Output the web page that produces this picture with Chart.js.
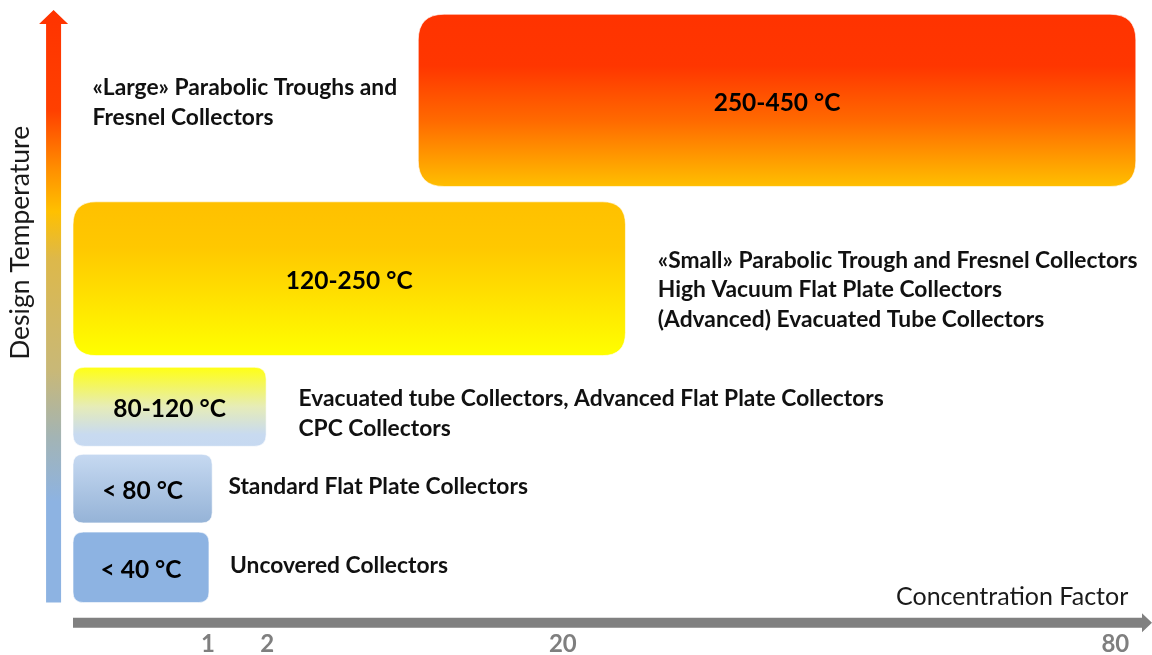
<!DOCTYPE html>
<html>
<head>
<meta charset="utf-8">
<title>Solar collectors: design temperature vs concentration factor</title>
<script src="https://cdn.jsdelivr.net/npm/chart.js@4/dist/chart.umd.min.js"></script>
<style>
  html, body { margin: 0; padding: 0; background: #ffffff; }
  #wrap { width: 1152px; height: 655px; position: relative; }
</style>
</head>
<body>
<div id="wrap"><canvas id="chart"></canvas></div>
<script>
// Temperature classes, with the concentration span (x) and temperature band (y)
// each one occupies on the schematic axes.
const classLabels = ['< 40 °C', '< 80 °C', '80-120 °C', '120-250 °C', '250-450 °C'];
const concentrationStart = [0, 0, 0, 0, 32.0];
const concentrationEnd = [12.6, 12.9, 17.9, 51.2, 98.5];
const temperatureLow = [3.3, 16.3, 28.8, 43.6, 71.2];
const temperatureHigh = [14.8, 27.5, 41.7, 68.7, 99.3];

// Collector technologies belonging to each temperature class
const collectorNotes = [
  ['Uncovered Collectors'],
  ['Standard Flat Plate Collectors'],
  ['Evacuated tube Collectors, Advanced Flat Plate Collectors', 'CPC Collectors'],
  ['«Small» Parabolic Trough and Fresnel Collectors', 'High Vacuum Flat Plate Collectors', '(Advanced) Evacuated Tube Collectors'],
  ['«Large» Parabolic Troughs and', 'Fresnel Collectors']
];

// Concentration factor ticks along the horizontal axis
const tickPositions = [12.5, 18.0, 45.4, 96.6];
const tickLabels = ['1', '2', '20', '80'];

const axisTitles = { x: 'Concentration Factor', y: 'Design Temperature' };

// ---- layout and styling ----
const noteAnchors = [   // left edge / vertical centre of each note block, in axis units
  [14.55, 9.3], [14.4, 22.2], [20.9, 34.1], [54.2, 54.3], [1.8, 84.9]
];
const xTitleAnchor = [97.8, 4.3];   // right end / centre of the horizontal axis title
const yTitleAnchor = [-4.9, 62];    // centre of the vertical axis title
const yArrowAt = -1.8;              // x position of the temperature arrow
const yArrowBase = 3.3;             // bottom of the temperature arrow

const boxFills = [
  [[0, '#8db3e2'], [1, '#8db3e2']],
  [[0, '#c6d9f1'], [1, '#95b3d7']],
  [[0, '#ffff14'], [0.5, '#e6ecb8'], [0.85, '#c8daf0'], [1, '#c6d9f1']],
  [[0, '#ffc000'], [0.3, '#ffc800'], [1, '#ffff00']],
  [[0, '#ff3300'], [0.3, '#ff3600'], [0.62, '#ff6a00'], [1, '#ffbf00']]
];
const temperatureArrowStops = [
  [0, '#ff3300'], [0.17, '#ff4000'], [0.27, '#ff9000'], [0.34, '#ffc000'],
  [0.42, '#ddb84a'], [0.61, '#c8b878'], [0.72, '#a3b4b4'], [0.83, '#8db3e2'], [1, '#8db3e2']
];
const FONT = 'Lato, "Open Sans", sans-serif';

function roundRectPath(ctx, x, y, w, h, r) {
  ctx.beginPath();
  ctx.moveTo(x + r, y);
  ctx.lineTo(x + w - r, y);
  ctx.quadraticCurveTo(x + w, y, x + w, y + r);
  ctx.lineTo(x + w, y + h - r);
  ctx.quadraticCurveTo(x + w, y + h, x + w - r, y + h);
  ctx.lineTo(x + r, y + h);
  ctx.quadraticCurveTo(x, y + h, x, y + h - r);
  ctx.lineTo(x, y + r);
  ctx.quadraticCurveTo(x, y, x + r, y);
  ctx.closePath();
}

const diagramPlugin = {
  id: 'temperatureClasses',
  afterDraw(chart) {
    const ctx = chart.ctx;
    const xs = chart.scales.x, ys = chart.scales.y;
    ctx.save();

    // horizontal axis arrow (concentration factor)
    const ax0 = xs.getPixelForValue(0), ax1 = xs.getPixelForValue(100);
    const ay = ys.getPixelForValue(0);
    ctx.fillStyle = '#808080';
    ctx.beginPath();
    ctx.moveTo(ax0, ay - 5);
    ctx.lineTo(ax1 - 10, ay - 5);
    ctx.lineTo(ax1 - 10, ay - 9.5);
    ctx.lineTo(ax1, ay);
    ctx.lineTo(ax1 - 10, ay + 9.5);
    ctx.lineTo(ax1 - 10, ay + 5);
    ctx.lineTo(ax0, ay + 5);
    ctx.closePath();
    ctx.fill();

    // vertical axis arrow (design temperature), coloured from cold to hot
    const vx = xs.getPixelForValue(yArrowAt);
    const vTop = ys.getPixelForValue(100), vBot = ys.getPixelForValue(yArrowBase);
    const vg = ctx.createLinearGradient(0, vTop, 0, vBot);
    temperatureArrowStops.forEach(([o, c]) => vg.addColorStop(o, c));
    ctx.fillStyle = vg;
    ctx.beginPath();
    ctx.moveTo(vx, vTop);
    ctx.lineTo(vx + 14.5, vTop + 14);
    ctx.lineTo(vx + 7.5, vTop + 14);
    ctx.lineTo(vx + 7.5, vBot);
    ctx.lineTo(vx - 7.5, vBot);
    ctx.lineTo(vx - 7.5, vTop + 14);
    ctx.lineTo(vx - 14.5, vTop + 14);
    ctx.closePath();
    ctx.fill();

    // axis titles
    ctx.fillStyle = '#1a1a1a';
    ctx.font = '25px ' + FONT;
    ctx.textAlign = 'right';
    ctx.textBaseline = 'middle';
    ctx.fillText(axisTitles.x, xs.getPixelForValue(xTitleAnchor[0]), ys.getPixelForValue(xTitleAnchor[1]));
    ctx.save();
    ctx.translate(xs.getPixelForValue(yTitleAnchor[0]), ys.getPixelForValue(yTitleAnchor[1]));
    ctx.rotate(-Math.PI / 2);
    ctx.textAlign = 'center';
    ctx.font = '26.5px ' + FONT;
    ctx.fillText(axisTitles.y, 0, 0);
    ctx.restore();

    // temperature class boxes
    classLabels.forEach((label, i) => {
      const x0 = xs.getPixelForValue(concentrationStart[i]);
      const x1 = xs.getPixelForValue(concentrationEnd[i]);
      const y0 = ys.getPixelForValue(temperatureHigh[i]);
      const y1 = ys.getPixelForValue(temperatureLow[i]);
      const w = x1 - x0, h = y1 - y0;
      const g = ctx.createLinearGradient(0, y0, 0, y1);
      boxFills[i].forEach(([o, c]) => g.addColorStop(o, c));
      roundRectPath(ctx, x0, y0, w, h, Math.min(w, h) * 0.15);
      ctx.fillStyle = g;
      ctx.fill();
      ctx.strokeStyle = 'rgba(255,255,255,0.6)';
      ctx.lineWidth = 1;
      ctx.stroke();

      ctx.fillStyle = '#000000';
      ctx.font = 'bold 24.5px ' + FONT;
      ctx.textAlign = 'center';
      ctx.textBaseline = 'middle';
      ctx.fillText(label, (x0 + x1) / 2, (y0 + y1) / 2 + 2.5);

      // collector types for this class
      const lines = collectorNotes[i];
      const nx = xs.getPixelForValue(noteAnchors[i][0]);
      const ny = ys.getPixelForValue(noteAnchors[i][1]);
      const lh = 29.5;
      ctx.textAlign = 'left';
      ctx.font = 'bold 22.8px ' + FONT;
      ctx.fillStyle = '#111111';
      lines.forEach((t, k) => {
        ctx.fillText(t, nx, ny + (k - (lines.length - 1) / 2) * lh);
      });
    });
    ctx.restore();
  }
};

new Chart(document.getElementById('chart'), {
  type: 'scatter',
  data: { datasets: [] },
  options: {
    responsive: true,
    maintainAspectRatio: false,
    animation: false,
    layout: { padding: { left: 73, right: 0, top: 10, bottom: -11 } },
    plugins: { legend: { display: false }, tooltip: { enabled: false } },
    scales: {
      x: {
        type: 'linear',
        min: 0,
        max: 100,
        grid: { display: false, drawTicks: false },
        border: { display: false },
        afterBuildTicks: (scale) => { scale.ticks = tickPositions.map(v => ({ value: v })); },
        ticks: {
          autoSkip: false,
          maxRotation: 0,
          padding: 9,
          color: '#7f7f7f',
          font: { family: FONT, size: 24, weight: 'bold', lineHeight: 1.05 },
          callback: (value, index) => tickLabels[index]
        }
      },
      y: { type: 'linear', min: 0, max: 100, display: false }
    }
  },
  plugins: [diagramPlugin]
});
</script>
</body>
</html>
